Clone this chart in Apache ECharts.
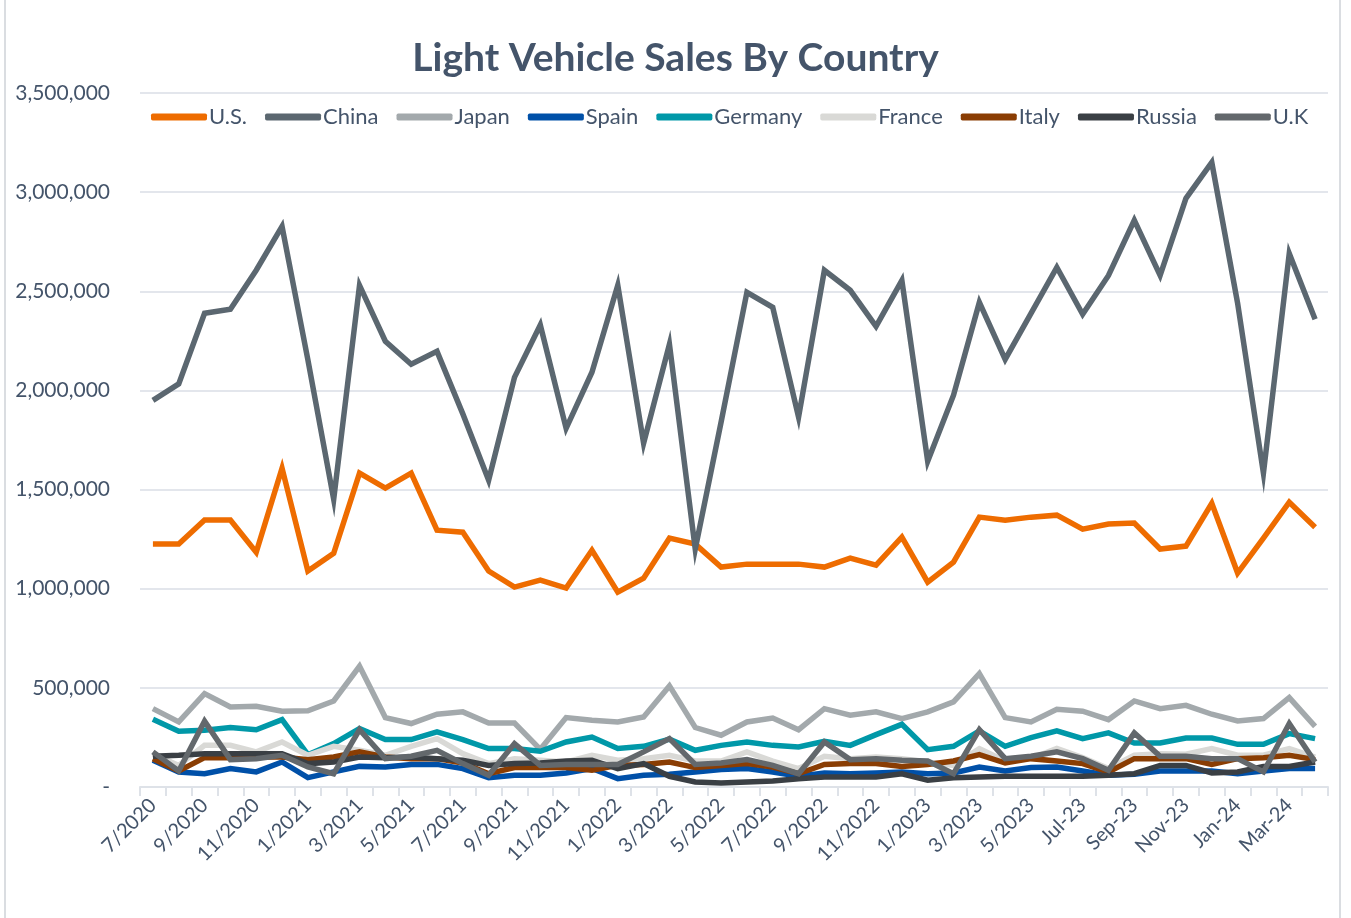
<!DOCTYPE html>
<html>
<head>
<meta charset="utf-8">
<title>Light Vehicle Sales By Country</title>
<script src="https://cdn.jsdelivr.net/npm/echarts@6/dist/echarts.min.js"></script>
<style>
  html, body { margin: 0; padding: 0; background: #fff; }
  #chart { width: 1351px; height: 918px; }
</style>
</head>
<body>
<div id="chart"></div>
<script>
  // months, 7/2020 .. Apr-24
  const months = [
    '7/2020', '8/2020', '9/2020', '10/2020', '11/2020', '12/2020',
    '1/2021', '2/2021', '3/2021', '4/2021', '5/2021', '6/2021', '7/2021', '8/2021', '9/2021', '10/2021', '11/2021', '12/2021',
    '1/2022', '2/2022', '3/2022', '4/2022', '5/2022', '6/2022', '7/2022', '8/2022', '9/2022', '10/2022', '11/2022', '12/2022',
    '1/2023', '2/2023', '3/2023', '4/2023', '5/2023', '6/2023',
    'Jul-23', 'Aug-23', 'Sep-23', 'Oct-23', 'Nov-23', 'Dec-23',
    'Jan-24', 'Feb-24', 'Mar-24', 'Apr-24'
  ];

  const us = [1225000, 1225000, 1346000, 1346000, 1184000, 1608000, 1089000, 1179000, 1583000, 1507000, 1583000, 1295000, 1285000, 1089000, 1008000, 1043000,
    1003000, 1194000, 983000, 1053000, 1255000, 1225000, 1109000, 1124000, 1124000, 1124000, 1109000, 1154000, 1119000, 1260000, 1033000,
    1134000, 1361000, 1346000, 1361000, 1371000, 1300000, 1326000, 1331000, 1200000, 1215000, 1431000, 1079000, 1255000, 1436000, 1310000];
  const china = [1950000, 2033000, 2389000, 2409000, 2606000, 2827000, 2155000, 1451000, 2530000, 2248000, 2132000, 2197000, 1882000, 1547000, 2066000, 2330000,
    1809000, 2092000, 2530000, 1734000, 2233000, 1200000, 1840000, 2495000, 2419000, 1865000, 2606000, 2505000, 2323000, 2555000, 1643000,
    1976000, 2444000, 2157000, 2389000, 2621000, 2384000, 2580000, 2858000, 2580000, 2969000, 3150000, 2440000, 1583000, 2691000, 2359000];
  const japan = [395000, 328000, 471000, 404000, 407000, 382000, 384000, 434000, 609000, 350000, 320000, 367000, 379000, 323000, 323000, 190000,
    350000, 337000, 328000, 353000, 510000, 300000, 261000, 328000, 348000, 289000, 395000, 362000, 379000, 345000, 379000,
    429000, 572000, 350000, 328000, 392000, 382000, 340000, 434000, 395000, 412000, 367000, 333000, 345000, 451000, 306000];
  const spain = [135000, 76000, 67000, 93000, 76000, 126000, 47000, 76000, 104000, 101000, 114000, 114000, 93000, 47000, 59000, 59000,
    71000, 93000, 42000, 59000, 64000, 76000, 88000, 93000, 76000, 54000, 71000, 67000, 71000, 76000, 67000,
    71000, 101000, 81000, 98000, 101000, 81000, 59000, 64000, 81000, 81000, 81000, 67000, 81000, 93000, 93000];
  const germany = [342000, 281000, 286000, 300000, 289000, 340000, 163000, 219000, 295000, 239000, 239000, 278000, 239000, 194000, 194000, 180000,
    227000, 252000, 194000, 205000, 241000, 185000, 210000, 227000, 210000, 202000, 231000, 210000, 264000, 316000, 188000,
    205000, 283000, 205000, 249000, 283000, 244000, 273000, 222000, 222000, 247000, 247000, 215000, 215000, 269000, 244000];
  const france = [168000, 109000, 210000, 210000, 177000, 227000, 160000, 205000, 185000, 160000, 205000, 244000, 168000, 118000, 143000, 135000,
    126000, 160000, 135000, 143000, 160000, 131000, 131000, 177000, 131000, 93000, 155000, 143000, 151000, 143000, 126000,
    109000, 194000, 131000, 143000, 194000, 148000, 93000, 160000, 168000, 165000, 194000, 160000, 160000, 194000, 151000];
  const italy = [143000, 81000, 148000, 148000, 151000, 151000, 138000, 151000, 177000, 151000, 143000, 143000, 121000, 67000, 98000, 98000,
    98000, 84000, 109000, 114000, 126000, 98000, 109000, 118000, 101000, 67000, 114000, 118000, 118000, 104000, 114000,
    131000, 163000, 121000, 143000, 131000, 118000, 76000, 143000, 143000, 143000, 114000, 143000, 148000, 160000, 138000];
  const russia = [155000, 160000, 168000, 168000, 168000, 168000, 118000, 126000, 151000, 148000, 151000, 143000, 135000, 109000, 118000, 121000,
    131000, 135000, 93000, 118000, 54000, 25000, 20000, 25000, 30000, 42000, 50000, 50000, 50000, 67000, 34000,
    47000, 50000, 54000, 54000, 54000, 54000, 59000, 67000, 109000, 109000, 71000, 76000, 104000, 104000, 126000];
  const uk = [177000, 81000, 332000, 138000, 143000, 160000, 101000, 67000, 289000, 143000, 155000, 185000, 118000, 59000, 219000, 109000,
    114000, 114000, 114000, 177000, 244000, 114000, 121000, 138000, 109000, 67000, 227000, 138000, 143000, 135000, 131000,
    67000, 289000, 143000, 155000, 177000, 143000, 84000, 273000, 155000, 155000, 143000, 143000, 76000, 320000, 126000];

  const seriesNames = ['U.S.', 'China', 'Japan', 'Spain', 'Germany', 'France', 'Italy', 'Russia', 'U.K'];
  const seriesData = [us, china, japan, spain, germany, france, italy, russia, uk];
  const colors = ['#EE6C00', '#5B6770', '#A3A9AC', '#0050A8', '#0098A8', '#D9D9D6', '#8A3D03', '#3A3F44', '#63686C'];

  const textColor = '#44546A';
  const font = 'Lato, "Open Sans", sans-serif';

  let myChart = echarts.init(document.getElementById('chart'));

  let option = {
    backgroundColor: '#fff',
    animation: false,
    color: colors,
    title: {
      text: 'Light Vehicle Sales By Country',
      left: 'center',
      top: 34,
      textStyle: { color: textColor, fontFamily: font, fontWeight: 'bold', fontSize: 39 }
    },
    legend: {
      left: 146,
      top: 101,
      itemWidth: 56,
      itemHeight: 7,
      itemGap: 18,
      icon: 'roundRect',
      data: seriesNames,
      textStyle: { color: textColor, fontFamily: font, fontSize: 22, padding: [0, 0, 0, -3] }
    },
    grid: { left: 140, right: 23, top: 93, bottom: 131 },
    xAxis: {
      type: 'category',
      data: months,
      boundaryGap: true,
      axisLine: { lineStyle: { color: '#DEE2E8', width: 2 } },
      axisTick: { show: true, length: 9, interval: 0, lineStyle: { color: '#DEE2E8', width: 2 } },
      axisLabel: {
        interval: 1,
        rotate: 45,
        margin: 15,
        color: textColor,
        fontFamily: font,
        fontSize: 20
      }
    },
    yAxis: {
      type: 'value',
      min: 0,
      max: 3500000,
      interval: 500000,
      axisLine: { show: false },
      axisTick: { show: false },
      splitLine: { lineStyle: { color: '#E3E6EC', width: 2 } },
      axisLabel: {
        margin: 30,
        color: textColor,
        fontFamily: font,
        fontSize: 21,
        formatter: v => v === 0 ? '-' : v.toLocaleString('en-US')
      }
    },
    graphic: [{
      type: 'rect',
      shape: { x: 5, y: -5, width: 1335, height: 940 },
      style: { fill: 'none', stroke: '#DADDE1', lineWidth: 2 },
      silent: true
    }],
    series: seriesNames.map((name, i) => ({
      name: name,
      type: 'line',
      data: seriesData[i],
      symbol: 'none',
      lineStyle: { width: 5.5, color: colors[i], join: 'miter' },
      itemStyle: { color: colors[i] }
    }))
  };

  myChart.setOption(option);
</script>
</body>
</html>
